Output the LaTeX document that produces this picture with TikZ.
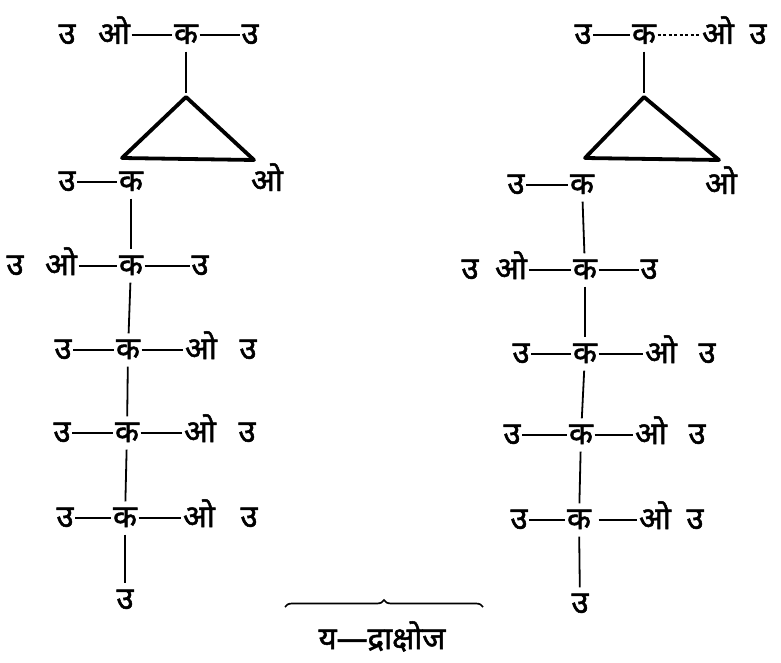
\documentclass[tikz,border=0pt]{standalone}
\usepackage{fontspec}
\newfontfamily\devfont[Script=Devanagari, FakeBold=1.6]{Noto Sans}
\usetikzlibrary{decorations.pathreplacing}

\tikzset{
  atom/.style={font=\devfont\fontsize{31}{33}\selectfont, inner sep=1.5pt,
    text height=18pt, text depth=0pt},
  bond/.style={line width=1.8pt},
  vbond/.style={line width=1.8pt, shorten <=6pt, shorten >=6pt},
  ring/.style={line width=3.8pt, line join=round, line cap=round},
}

\begin{document}
\begin{tikzpicture}[x=1pt, y=-1pt]
  \useasboundingbox (0,0) rectangle (781,663);
  % left column
  \node[atom] (lh1a) at (67,35) {उ};
  \node[atom] (lo1) at (114,35) {ओ};
  \node[atom] (lc1) at (186,35) {क};
  \node[atom] (lh1b) at (250,35) {उ};
  \draw[bond] (lo1) -- (lc1) -- (lh1b);
  \coordinate (lapex) at (lc1 |- 0,97);
  \coordinate (lleft) at (122,158);
  \coordinate (lright) at (254,160);
  \draw[vbond, shorten >=4pt] (lc1) -- (lapex);
  \draw[ring] (lapex) -- (lleft) -- (lright) -- cycle;
  \node[atom] (lh2) at (67,182) {उ};
  \node[atom] (lc2) at (131,182) {क};
  \node[atom] (lo2) at (267,182) {ओ};
  \draw[bond] (lh2) -- (lc2);
  \node[atom] (lh3a) at (15,266) {उ};
  \node[atom] (lo3) at (61,266) {ओ};
  \node[atom] (lc3) at (131,266) {क};
  \node[atom] (lh3b) at (200,266) {उ};
  \draw[bond] (lo3) -- (lc3) -- (lh3b);
  \node[atom] (lh4) at (63,350) {उ};
  \node[atom] (lc4) at (128,350) {क};
  \node[atom] (lo4) at (201,350) {ओ};
  \node[atom] (lh4b) at (248,350) {उ};
  \draw[bond] (lh4) -- (lc4) -- (lo4);
  \node[atom] (lh5) at (62,433) {उ};
  \node[atom] (lc5) at (127,433) {क};
  \node[atom] (lo5) at (200,433) {ओ};
  \node[atom] (lh5b) at (247,433) {उ};
  \draw[bond] (lh5) -- (lc5) -- (lo5);
  \node[atom] (lh6) at (65,518) {उ};
  \node[atom] (lc6) at (125,518) {क};
  \node[atom] (lo6) at (199,518) {ओ};
  \node[atom] (lh6b) at (249,518) {उ};
  \draw[bond] (lh6) -- (lc6) -- (lo6);
  \node[atom] (lh7) at (125,600) {उ};
  \draw[vbond] (lc2) -- (lc3);
  \draw[vbond] (lc3) -- (lc4);
  \draw[vbond] (lc4) -- (lc5);
  \draw[vbond] (lc5) -- (lc6);
  \draw[vbond] (lc6) -- (lh7);
  % right column
  \node[atom] (rh1a) at (583,35) {उ};
  \node[atom] (rc1) at (644,35) {क};
  \node[atom] (ro1) at (718,35) {ओ};
  \node[atom] (rh1b) at (758,35) {उ};
  \draw[bond] (rh1a) -- (rc1);
  \draw[bond, line width=1.1pt, dash pattern=on 3pt off 2.5pt] (rc1) -- (ro1);
  \coordinate (rapex) at (rc1 |- 0,97);
  \coordinate (rleft) at (585,158);
  \coordinate (rright) at (719,160);
  \draw[vbond, shorten >=4pt] (rc1) -- (rapex);
  \draw[ring] (rapex) -- (rleft) -- (rright) -- cycle;
  \node[atom] (rh2) at (516,185) {उ};
  \node[atom] (rc2) at (582,185) {क};
  \node[atom] (ro2) at (721,185) {ओ};
  \draw[bond] (rh2) -- (rc2);
  \node[atom] (rh3a) at (470,270) {उ};
  \node[atom] (ro3) at (511,270) {ओ};
  \node[atom] (rc3) at (585,270) {क};
  \node[atom] (rh3b) at (649,270) {उ};
  \draw[bond] (ro3) -- (rc3) -- (rh3b);
  \node[atom] (rh4) at (521,354) {उ};
  \node[atom] (rc4) at (585,354) {क};
  \node[atom] (ro4) at (661,354) {ओ};
  \node[atom] (rh4b) at (707,354) {उ};
  \draw[bond] (rh4) -- (rc4) -- (ro4);
  \node[atom] (rh5) at (512,435) {उ};
  \node[atom] (rc5) at (581,435) {क};
  \node[atom] (ro5) at (651,435) {ओ};
  \node[atom] (rh5b) at (697,435) {उ};
  \draw[bond] (rh5) -- (rc5) -- (ro5);
  \node[atom] (rh6) at (519,520) {उ};
  \node[atom] (rc6) at (579,520) {क};
  \node[atom] (ro6) at (655,520) {ओ};
  \node[atom] (rh6b) at (695,520) {उ};
  \draw[bond] (rh6) -- (rc6);
  \draw[bond, shorten <=6pt] (rc6) -- (ro6);
  \node[atom] (rh7) at (580,604) {उ};
  \draw[vbond] (rc2) -- (rc3);
  \draw[vbond] (rc3) -- (rc4);
  \draw[vbond] (rc4) -- (rc5);
  \draw[vbond] (rc5) -- (rc6);
  \draw[vbond] (rc6) -- (rh7);
  % name under the brace
  \coordinate (bl) at (285,607);
  \coordinate (br) at (483,607);
  \draw[line width=1.7pt, decorate, decoration={brace, amplitude=7pt}] (bl) -- (br);
  \node[atom] (name) at (382,640) {य—द्राक्षोज};
\end{tikzpicture}
\end{document}
